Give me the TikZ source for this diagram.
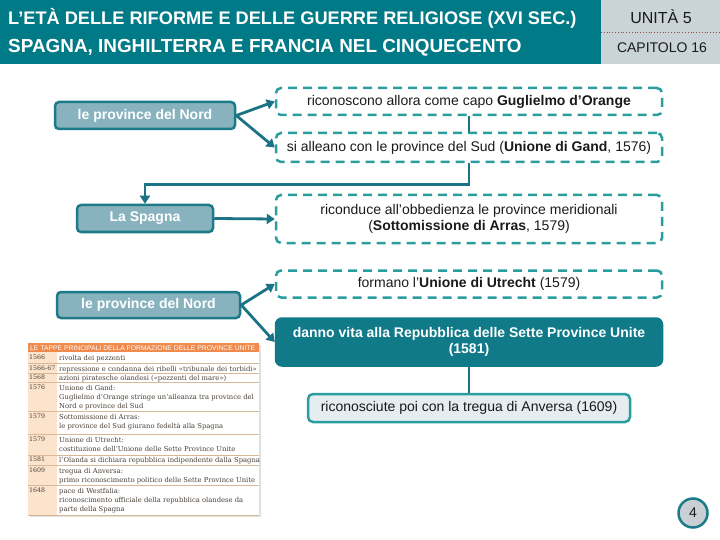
\documentclass[tikz,border=0pt]{standalone}
\usepackage{fontspec}
\setmainfont{Liberation Sans}
\newfontfamily\tabfont{DejaVu Serif}
\usetikzlibrary{arrows.meta}
\definecolor{band}{HTML}{007A87}
\definecolor{sidegray}{HTML}{C9D3D8}
\definecolor{dotred}{HTML}{A04848}
\definecolor{nfill}{HTML}{88B3BE}
\definecolor{nbord}{HTML}{1D7A88}
\definecolor{arrc}{HTML}{1C7385}
\definecolor{dteal}{HTML}{2A9D9E}
\definecolor{darkfill}{HTML}{107A89}
\definecolor{lightfill}{HTML}{E5EDF0}
\definecolor{circfill}{HTML}{C8D0D6}
\definecolor{torange}{HTML}{EF8A4C}
\definecolor{tpeach}{HTML}{FCE4CC}
\definecolor{tline}{HTML}{D8B898}
\definecolor{ttext}{HTML}{4A4038}
\definecolor{btext}{HTML}{1A1A1A}
\tikzset{
  nordbox/.style={draw=nbord, fill=nfill, line width=2.5pt, rounded corners=4pt,
    text=white, font=\bfseries\fontsize{14}{16}\selectfont, inner sep=0pt, minimum height=27pt},
  dashbox/.style={draw=dteal, dash pattern=on 9pt off 6pt, line width=2.5pt, rounded corners=5pt,
    text=btext, font=\fontsize{14}{16}\selectfont, inner sep=0pt, minimum width=386pt, align=center},
  darkbox/.style={draw=darkfill, fill=darkfill, line width=2.5pt, rounded corners=6pt,
    text=white, font=\bfseries\fontsize{14}{16}\selectfont, inner sep=0pt, minimum width=386pt, minimum height=47pt, align=center},
  lightbox/.style={draw=dteal, fill=lightfill, line width=2.5pt, rounded corners=5pt,
    text=btext, font=\fontsize{14}{16}\selectfont, inner sep=0pt, minimum width=322pt, minimum height=28pt},
  arr/.style={draw=arrc, line width=2.8pt, -{Triangle[length=8pt,width=10pt]}},
  conn/.style={draw=arrc, line width=2.8pt},
  yeartxt/.style={anchor=north west, inner sep=0pt, font=\tabfont\fontsize{6.3}{9}\selectfont, text=ttext},
  rowtxt/.style={anchor=north west, inner sep=0pt, font=\tabfont\fontsize{6.8}{9}\selectfont, text=ttext, align=left},
}
\begin{document}
\begin{tikzpicture}[x=1pt,y=-1pt]
\useasboundingbox (0,0) rectangle (720,540);
% header
\fill[band] (0,0) rectangle (601,64);
\fill[sidegray] (601,0) rectangle (720,64);
\draw[dotred, dotted, line width=0.8pt] (601,32) -- (720,32);
\node[anchor=west, inner sep=0pt, text=white, font=\bfseries\fontsize{18.2}{21}\selectfont] (t1) at (8,18) {L’ETÀ DELLE RIFORME E DELLE GUERRE RELIGIOSE (XVI SEC.)};
\node[anchor=west, inner sep=0pt, text=white, font=\bfseries\fontsize{18.9}{21}\selectfont] (t2) at (8,48) {SPAGNA, INGHILTERRA E FRANCIA NEL CINQUECENTO};
\node[inner sep=0pt, text=btext, font=\fontsize{16}{18}\selectfont] (unita) at (661,17) {UNITÀ 5};
\node[inner sep=0pt, text=btext, font=\fontsize{14}{16}\selectfont] (cap) at (662,48) {CAPITOLO 16};

% first block
\node[nordbox, minimum width=180pt] (n1) at (145,115.5) {le province del Nord};
\node[dashbox, minimum height=27pt] (b1) at (469,101.5) {riconoscono allora come capo \textbf{Guglielmo d’Orange}};
\node[dashbox, minimum height=29pt] (b2) at (469,147.5) {si alleano con le province del Sud (\textbf{Unione di Gand}, 1576)};
\node[nordbox, minimum width=136pt] (sp) at (145,218.5) {La Spagna};
\node[dashbox, minimum height=48pt] (b3) at (469,219) {riconduce all'obbedienza le province meridionali\\(\textbf{Sottomissione di Arras}, 1579)};

\draw[arr] (n1.east) -- (b1.west);
\draw[arr] (n1.east) -- (b2.west);
\draw[conn] (b1.south) -- (b2.north);
\draw[arr] (b2.south) -- ++(0,21) -| (sp.north);
\draw[arr] (sp.east) -- (b3.west);

% second block
\node[dashbox, minimum height=27pt] (b4) at (469,284) {formano l'\textbf{Unione di Utrecht} (1579)};
\node[nordbox, minimum width=183pt, minimum height=26pt] (n2) at (148.5,305) {le province del Nord};
\node[darkbox] (b5) at (469,342) {danno vita alla Repubblica delle Sette Province Unite\\(1581)};
\node[lightbox] (b6) at (469,408) {riconosciute poi con la tregua di Anversa (1609)};
\draw[arr] (n2.east) -- (b4.west);
\draw[arr] (n2.east) -- (b5.west);
\draw[conn] (b5.south) -- (b6.north);

% page number
\node[circle, draw=nbord, fill=circfill, line width=2.5pt, minimum size=29pt, inner sep=0pt,
  font=\fontsize{14}{16}\selectfont, text=btext] (pg) at (693,513) {4};

% table
\fill[black!12] (29.5,344.5) rectangle (260.5,516.5);
\fill[white] (28,352) rectangle (259,515);
\fill[tpeach] (28,352) rectangle (57,515);
\fill[torange] (28,343) rectangle (259,352);
\node[anchor=west, inner sep=0pt, text=white, font=\fontsize{6.8}{7}\selectfont] (th) at (30,347.7) {LE TAPPE PRINCIPALI DELLA FORMAZIONE DELLE PROVINCE UNITE};
\foreach \yy in {363,373,382,411,434,455,465,485,515}
  \draw[tline, line width=0.6pt] (28,\yy) -- (259,\yy);
\node[yeartxt] (y1) at (29,355) {1566};
\node[rowtxt] (r1) at (59,355) {rivolta dei pezzenti};
\node[yeartxt] (y2) at (29,366) {1566-67};
\node[rowtxt] (r2) at (59,366) {repressione e condanna dei ribelli «tribunale dei torbidi»};
\node[yeartxt] (y3) at (29,375) {1568};
\node[rowtxt] (r3) at (59,375) {azioni piratesche olandesi («pezzenti del mare»)};
\node[yeartxt] (y4) at (29,385) {1576};
\node[rowtxt] (r4) at (59,385) {Unione di Gand:\\Guglielmo d’Orange stringe un’alleanza tra province del\\Nord e province del Sud};
\node[yeartxt] (y5) at (29,414) {1579};
\node[rowtxt] (r5) at (59,414) {Sottomissione di Arras:\\le province del Sud giurano fedeltà alla Spagna};
\node[yeartxt] (y6) at (29,437) {1579};
\node[rowtxt] (r6) at (59,437) {Unione di Utrecht:\\costituzione dell’Unione delle Sette Province Unite};
\node[yeartxt] (y7) at (29,457) {1581};
\node[rowtxt] (r7) at (59,457) {l’Olanda si dichiara repubblica indipendente dalla Spagna};
\node[yeartxt] (y8) at (29,468) {1609};
\node[rowtxt] (r8) at (59,468) {tregua di Anversa:\\primo riconoscimento politico delle Sette Province Unite};
\node[yeartxt] (y9) at (29,488) {1648};
\node[rowtxt] (r9) at (59,488) {pace di Westfalia:\\riconoscimento ufficiale della repubblica olandese da\\parte della Spagna};
\end{tikzpicture}
\end{document}
